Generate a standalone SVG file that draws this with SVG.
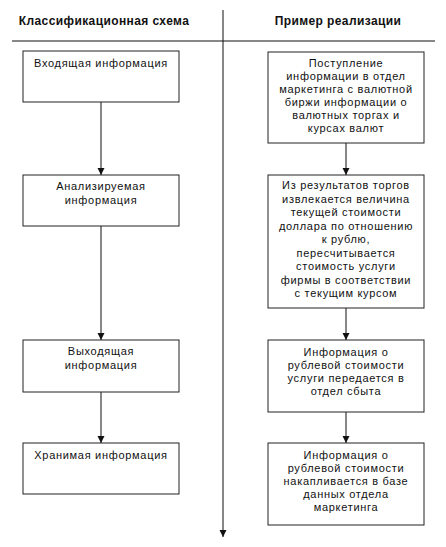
<svg xmlns="http://www.w3.org/2000/svg" width="446" height="547" viewBox="0 0 446 547">
<style>
.box{fill:#fff;stroke:#222;stroke-width:1}
.t{font-family:"Liberation Sans",Arial,sans-serif;font-size:11px;letter-spacing:0.7px;fill:#111;text-anchor:middle}
.h{font-family:"Liberation Sans",Arial,sans-serif;font-size:12px;font-weight:bold;letter-spacing:0.4px;fill:#111;text-anchor:middle}
.c{stroke:#111;stroke-width:1;fill:none;marker-end:url(#ah)}
</style>
<defs>
<marker id="ah" markerWidth="8" markerHeight="8" refX="7" refY="4" orient="auto" markerUnits="userSpaceOnUse">
<path d="M0,0.5 L7,4 L0,7.5 Z" fill="#111"/>
</marker>
</defs>
<rect width="446" height="547" fill="#fff"/>
<g id="header">
<text class="h" x="104" y="25">Классификационная схема</text>
<text class="h" x="338" y="25">Пример реализации</text>
<line x1="12" y1="41" x2="435" y2="41" stroke="#111" stroke-width="1"/>
</g>
<g id="connectors">
<line class="c" x1="223" y1="10" x2="223" y2="537"/>
<line class="c" x1="101" y1="102" x2="101" y2="175"/>
<line class="c" x1="101" y1="226" x2="101" y2="340"/>
<line class="c" x1="101" y1="392" x2="101" y2="443"/>
<line class="c" x1="346" y1="143" x2="346" y2="175"/>
<line class="c" x1="346" y1="308" x2="346" y2="340"/>
<line class="c" x1="346" y1="412" x2="346" y2="443"/>
</g>
<g id="L1"><rect class="box" x="23" y="51" width="156" height="51"/>
<text class="t" x="101" y="67">Входящая информация</text></g>
<g id="L2"><rect class="box" x="23" y="175" width="156" height="51"/>
<text class="t" x="101" y="190">Анализируемая</text><text class="t" x="101" y="204">информация</text></g>
<g id="L3"><rect class="box" x="23" y="340" width="156" height="52"/>
<text class="t" x="101" y="355">Выходящая</text><text class="t" x="101" y="369">информация</text></g>
<g id="L4"><rect class="box" x="23" y="443" width="156" height="51"/>
<text class="t" x="101" y="459">Хранимая информация</text></g>
<g id="R1"><rect class="box" x="268" y="52" width="156" height="91"/>
<text class="t" x="346" y="67">Поступление</text>
<text class="t" x="346" y="80">информации в отдел</text>
<text class="t" x="346" y="93">маркетинга с валютной</text>
<text class="t" x="346" y="106">биржи информации о</text>
<text class="t" x="346" y="119">валютных торгах и</text>
<text class="t" x="346" y="132">курсах валют</text></g>
<g id="R2"><rect class="box" x="268" y="175" width="156" height="133"/>
<text class="t" x="346" y="189">Из результатов торгов</text>
<text class="t" x="346" y="202.5">извлекается величина</text>
<text class="t" x="346" y="216">текущей стоимости</text>
<text class="t" x="346" y="229.5">доллара по отношению</text>
<text class="t" x="346" y="243">к рублю,</text>
<text class="t" x="346" y="256.5">пересчитывается</text>
<text class="t" x="346" y="270">стоимость услуги</text>
<text class="t" x="346" y="283.5">фирмы в соответствии</text>
<text class="t" x="346" y="297">с текущим курсом</text></g>
<g id="R3"><rect class="box" x="268" y="340" width="156" height="72"/>
<text class="t" x="346" y="356">Информация о</text>
<text class="t" x="346" y="369">рублевой стоимости</text>
<text class="t" x="346" y="382">услуги передается в</text>
<text class="t" x="346" y="395">отдел сбыта</text></g>
<g id="R4"><rect class="box" x="268" y="443" width="156" height="82"/>
<text class="t" x="346" y="459">Информация о</text>
<text class="t" x="346" y="472">рублевой стоимости</text>
<text class="t" x="346" y="485">накапливается в базе</text>
<text class="t" x="346" y="498">данных отдела</text>
<text class="t" x="346" y="511">маркетинга</text></g>
</svg>
